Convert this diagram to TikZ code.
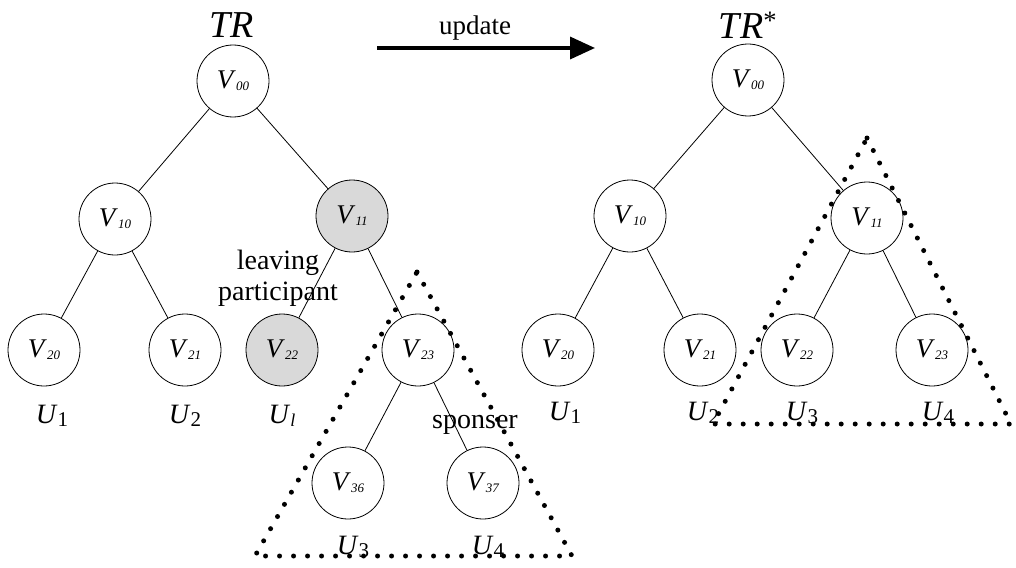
\documentclass[tikz,border=0pt]{standalone}
\usepackage{fontspec}
\setmainfont{Liberation Serif}
\usepackage{tikz}
\usetikzlibrary{arrows.meta}
\definecolor{goneFill}{HTML}{D9D9D9}
\newcommand{\vlab}[1]{\textit{V}\raisebox{-2pt}{\fontsize{13}{13}\selectfont\textit{#1}}}
\newcommand{\ulab}[1]{\textit{U}\raisebox{-3pt}{\fontsize{21}{21}\selectfont #1}}

\begin{document}
\begin{tikzpicture}[
x=1pt,y=-1pt,
vert/.style={circle,draw,line width=0.8pt,minimum size=72pt,inner sep=0pt,
  font=\fontsize{27}{27}\selectfont},
gone/.style={vert,fill=goneFill},
lbl/.style={font=\fontsize{28}{31}\selectfont,inner sep=0pt,align=center},
ttl/.style={font=\fontsize{38}{38}\selectfont\itshape,inner sep=0pt},
edge/.style={line width=0.8pt},
tri/.style={line width=5pt,line cap=round,dash pattern=on 0pt off 14pt},
]
\useasboundingbox (0,0) rectangle (1016,567);

% tree before the update
\node[ttl] (trA) at (232,25) {TR};
\node[vert] (a00) at (233,81) {\vlab{00}};
\node[vert] (a10) at (115,219) {\vlab{10}};
\node[gone] (a11) at (352,216) {\vlab{11}};
\node[vert] (a20) at (44,350) {\vlab{20}};
\node[vert] (a21) at (185,350) {\vlab{21}};
\node[gone] (a22) at (282,350) {\vlab{22}};
\node[vert] (a23) at (418,350) {\vlab{23}};
\node[vert] (a36) at (348,483) {\vlab{36}};
\node[vert] (a37) at (483,483) {\vlab{37}};
\draw[edge] (a00) -- (a10) (a00) -- (a11)
  (a10) -- (a20) (a10) -- (a21)
  (a11) -- (a22) (a11) -- (a23)
  (a23) -- (a36) (a23) -- (a37);
\node[lbl] (ua1) at (52,416) {\ulab{1}};
\node[lbl] (ua2) at (185,416) {\ulab{2}};
\node[lbl] (ual) at (282,416) {\textit{U}\raisebox{-3pt}{\fontsize{18}{18}\selectfont\textit{l}}};
\node[lbl] (ua3) at (353,547) {\ulab{3}};
\node[lbl] (ua4) at (488,547) {\ulab{4}};
\node[lbl] (leave) at (278,278) {leaving\\participant};
\node[lbl] (spon) at (475,425) {sponser};
\coordinate (ta) at (417,272);
\coordinate (tb) at (572,556);
\coordinate (tc) at (255,556);
\draw[tri] (ta) -- (tb) -- (tc) -- cycle;

% the update arrow
\coordinate (arrS) at (377,48);
\coordinate (arrE) at (595,48);
\draw[line width=3.5pt,-{Triangle[length=25pt,width=22pt]}] (arrS) -- (arrE);
\node[lbl,font=\fontsize{27}{27}\selectfont] (upd) at (475,28) {update};

% tree after the update
\node[ttl] (trB) at (748,25) {TR\textsuperscript{\upshape*}};
\node[vert] (b00) at (748,80) {\vlab{00}};
\node[vert] (b10) at (630,216) {\vlab{10}};
\node[vert] (b11) at (867,218) {\vlab{11}};
\node[vert] (b20) at (558,350) {\vlab{20}};
\node[vert] (b21) at (700,350) {\vlab{21}};
\node[vert] (b22) at (797,350) {\vlab{22}};
\node[vert] (b23) at (932,350) {\vlab{23}};
\draw[edge] (b00) -- (b10) (b00) -- (b11)
  (b10) -- (b20) (b10) -- (b21)
  (b11) -- (b22) (b11) -- (b23);
\node[lbl] (ub1) at (565,413) {\ulab{1}};
\node[lbl] (ub2) at (703,413) {\ulab{2}};
\node[lbl] (ub3) at (802,413) {\ulab{3}};
\node[lbl] (ub4) at (938,413) {\ulab{4}};
\coordinate (sa) at (867,138);
\coordinate (sb) at (1011,424);
\coordinate (sc) at (713,424);
\draw[tri] (sa) -- (sb) -- (sc) -- cycle;
\end{tikzpicture}
\end{document}
